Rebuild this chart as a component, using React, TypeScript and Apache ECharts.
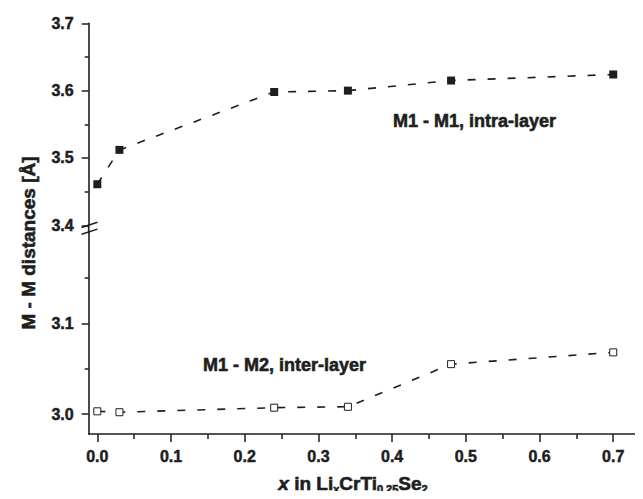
import React, { useEffect, useRef } from "react";
import * as echarts from "echarts";

// ---- data ----
const xValues = [0, 0.03, 0.24, 0.34, 0.48, 0.7];
const intraLayer = [3.461, 3.512, 3.598, 3.6, 3.615, 3.624];
const interLayer = [3.003, 3.002, 3.007, 3.008, 3.055, 3.068];
const xTickValues = [0, 0.1, 0.2, 0.3, 0.4, 0.5, 0.6, 0.7];
const xMinorTickValues = [0.05, 0.15, 0.25, 0.35, 0.45, 0.55, 0.65];
const upperYTicks = [3.4, 3.5, 3.6, 3.7];
const upperYMinor = [3.45, 3.55, 3.65];
const lowerYTicks = [3.0, 3.1];
const lowerYMinor = [3.05, 3.15];
const intraLabel = "M1 - M1, intra-layer";
const interLabel = "M1 - M2, inter-layer";
const yTitle = "M - M distances [Å]";

const FONT = '"Liberation Sans", Arial, sans-serif';
const INK = "#1e1e1e";
const X_MIN = -0.0117;
const X_MAX = 0.74;

export default function App() {
  const ref = useRef<HTMLDivElement>(null);

  useEffect(() => {
    if (!ref.current) return;
    const chart = echarts.init(ref.current, undefined, { renderer: "svg" });

    const labelStyle = {
      color: INK,
      fontFamily: FONT,
      fontWeight: "bold" as const,
      fontSize: 16,
      textBorderColor: INK,
      textBorderWidth: 0.5,
    };

    const majorY = (grid: number, min: number, max: number, ticks: number[]) => ({
      type: "value",
      gridIndex: grid,
      min,
      max,
      position: "left",
      splitLine: { show: false },
      axisLine: { show: true, onZero: false, lineStyle: { color: INK, width: 1.6 } },
      axisTick: {
        show: true,
        length: 7,
        customValues: ticks,
        lineStyle: { color: INK, width: 1.5 },
      },
      axisLabel: {
        ...labelStyle,
        margin: 15,
        customValues: ticks,
        formatter: (v: number) => v.toFixed(1),
      },
    });

    const minorY = (grid: number, min: number, max: number, ticks: number[]) => ({
      type: "value",
      gridIndex: grid,
      min,
      max,
      position: "left",
      offset: 0,
      splitLine: { show: false },
      axisLine: { show: false, onZero: false },
      axisTick: {
        show: true,
        length: 4,
        customValues: ticks,
        lineStyle: { color: INK, width: 1.5 },
      },
      axisLabel: { show: false },
    });

    const option: any = {
      animation: false,
      backgroundColor: "#ffffff",
      grid: [
        { left: 88.7, right: 0.3, top: 23.3, height: 202 },
        { left: 88.7, right: 0.3, top: 232.6, height: 201.4 },
      ],
      xAxis: [
        { type: "value", gridIndex: 0, min: X_MIN, max: X_MAX, show: false },
        {
          type: "value",
          gridIndex: 1,
          min: X_MIN,
          max: X_MAX,
          position: "bottom",
          splitLine: { show: false },
          axisLine: { show: true, onZero: false, lineStyle: { color: INK, width: 1.6 } },
          axisTick: {
            show: true,
            length: 8,
            customValues: xTickValues,
            lineStyle: { color: INK, width: 1.5 },
          },
          axisLabel: {
            ...labelStyle,
            margin: 14,
            customValues: xTickValues,
            formatter: (v: number) => v.toFixed(1),
          },
        },
        {
          type: "value",
          gridIndex: 1,
          min: X_MIN,
          max: X_MAX,
          position: "bottom",
          offset: 0,
          splitLine: { show: false },
          axisLine: { show: false, onZero: false },
          axisTick: {
            show: true,
            length: 5,
            customValues: xMinorTickValues,
            lineStyle: { color: INK, width: 1.5 },
          },
          axisLabel: { show: false },
        },
      ],
      yAxis: [
        majorY(0, 3.4, 3.7, upperYTicks),
        majorY(1, 2.978, 3.2, lowerYTicks),
        minorY(0, 3.4, 3.7, upperYMinor),
        minorY(1, 2.978, 3.2, lowerYMinor),
      ],
      series: [
        {
          type: "line",
          name: intraLabel,
          xAxisIndex: 0,
          yAxisIndex: 0,
          data: xValues.map((x, i) => [x, intraLayer[i]]),
          symbol: "rect",
          symbolSize: 8,
          itemStyle: { color: INK, borderWidth: 0 },
          lineStyle: { color: INK, width: 1.6, type: [8, 12] },
        },
        {
          type: "line",
          name: interLabel,
          xAxisIndex: 1,
          yAxisIndex: 1,
          data: xValues.map((x, i) => [x, interLayer[i]]),
          symbol: "rect",
          symbolSize: 7,
          itemStyle: { color: "#ffffff", borderColor: INK, borderWidth: 1 },
          lineStyle: { color: INK, width: 1.6, type: [8, 12] },
        },
      ],
      graphic: [
        // axis break marks
        {
          type: "line",
          shape: { x1: 88.7, y1: 225.3, x2: 88.7, y2: 232.6 },
          style: { stroke: INK, lineWidth: 1.6 },
        },
        {
          type: "line",
          shape: { x1: 81.5, y1: 227.5, x2: 97.5, y2: 222.3 },
          style: { stroke: INK, lineWidth: 1.5 },
        },
        {
          type: "line",
          shape: { x1: 81.5, y1: 234.3, x2: 97.5, y2: 229.1 },
          style: { stroke: INK, lineWidth: 1.5 },
        },
        {
          type: "text",
          x: 393,
          y: 121,
          style: {
            text: intraLabel,
            fill: INK,
            font: `bold 18px ${FONT}`,
            align: "left",
            verticalAlign: "middle",
            stroke: INK,
            lineWidth: 0.6,
          },
        },
        {
          type: "text",
          x: 203,
          y: 365,
          style: {
            text: interLabel,
            fill: INK,
            font: `bold 18px ${FONT}`,
            align: "left",
            verticalAlign: "middle",
            stroke: INK,
            lineWidth: 0.6,
          },
        },
        {
          type: "text",
          x: 28,
          y: 243,
          rotation: Math.PI / 2,
          style: {
            text: yTitle,
            fill: INK,
            font: `bold 19px ${FONT}`,
            align: "center",
            verticalAlign: "middle",
            stroke: INK,
            lineWidth: 0.6,
          },
        },
        {
          type: "text",
          x: 353,
          y: 483,
          style: {
            text: "{i|x} in Li{s|x}CrTi{s|0.25}Se{s|2}",
            fill: INK,
            font: `bold 19px ${FONT}`,
            fontFamily: FONT,
            fontWeight: "bold",
            fontSize: 19,
            align: "center",
            verticalAlign: "middle",
            stroke: INK,
            lineWidth: 0.6,
            rich: {
              i: { fontStyle: "italic", fontWeight: "bold", fontSize: 19, fontFamily: FONT, fill: INK },
              s: {
                fontWeight: "bold",
                fontSize: 11,
                fontFamily: FONT,
                fill: INK,
                padding: [11, 0, 0, 0],
              },
            },
          },
        },
      ],
    };

    chart.setOption(option);
    return () => chart.dispose();
  }, []);

  return <div ref={ref} style={{ width: 643, height: 499, margin: -8 }} />;
}
